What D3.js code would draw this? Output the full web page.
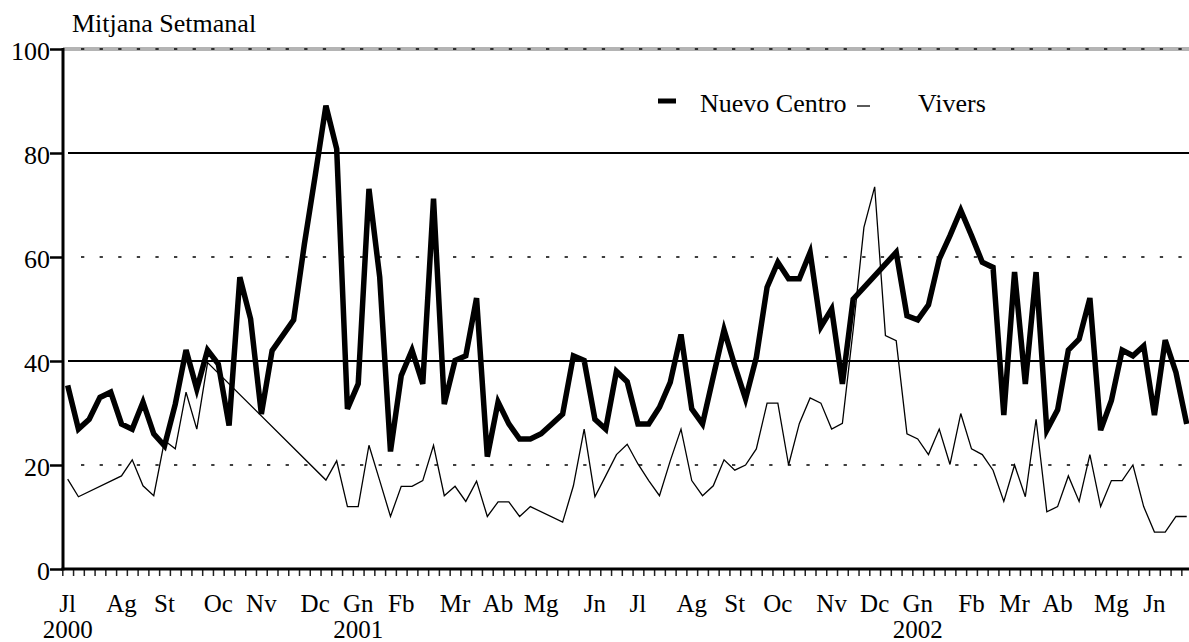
<!DOCTYPE html>
<html>
<head>
<meta charset="utf-8">
<script src="https://cdn.jsdelivr.net/npm/d3@7"></script>
<style>
  body { margin: 0; background: #fff; }
  svg { display: block; }
</style>
</head>
<body>
<svg id="chart" width="1189" height="642"></svg>
<script>
// weekly averages, Jul 2000 - Jun 2002 (null = no value that week)
const nuevoCentro = [
  35.3, 26.9, 28.8, 33.0, 34.0, 27.9, 26.9, 32.1, 26.0, 23.7,
  31.7, 42.1, 34.6, 42.1, 39.4, 27.6, 56.1, 48.1, 29.8, 42.0,
  null, 47.9, 62.5, 75.6, 89.1, 80.8, 30.8, 35.6, 73.1, 56.1,
  22.6, 37.2, 42.1, 35.6, 71.2, 31.7, 40.1, 41.0, 52.1, 21.6,
  32.1, 27.9, 25.0, 25.0, 26.0, 27.9, 29.8, 41.0, 40.1, 28.8,
  26.9, 38.0, 36.0, 27.9, 27.9, 31.1, 35.9, 45.1, 30.8, 27.9,
  37.0, 46.0, 39.1, 32.7, 40.7, 54.2, 59.0, 55.8, 55.8, 60.9,
  46.6, 50.0, 35.6, 51.9, null, null, null, 60.9, 48.7, 47.9,
  50.8, 59.6, 64.1, 69.0, 64.1, 59.0, 58.0, 29.6, 57.1, 35.6,
  57.1, 26.7, 30.6, 42.1, 44.2, 52.1, 26.7, 32.4, 42.1, 41.0,
  42.9, 29.6, 44.0, 37.8, 27.9
];
const vivers = [
  17.3, 13.9, null, null, null, 17.9, 21.0, 16.0, 14.1, 24.7,
  23.1, 34.0, 26.9, 39.7, null, null, null, null, null, null,
  null, null, null, null, 17.1, 20.8, 12.0, 12.0, 23.8, 17.0,
  10.1, 15.9, 15.9, 17.0, 23.8, 14.1, 15.9, 13.0, 16.9, 10.1,
  12.9, 12.9, 10.1, 12.0, null, null, 9.0, 16.0, 26.9, 13.9,
  17.9, 22.0, 24.0, 20.2, 17.0, 14.1, 20.8, 26.9, 17.0, 14.1,
  16.0, 21.0, 19.0, 20.0, 23.1, 31.9, 31.9, 20.0, 28.0, 32.9,
  31.9, 26.9, 28.0, 46.0, 65.7, 73.5, 44.9, 43.9, 26.0, 25.0,
  22.0, 26.9, 20.1, 29.9, 23.1, 22.0, 19.0, 13.0, 20.0, 13.9,
  28.8, 11.0, 12.0, 17.9, 13.0, 22.0, 12.0, 17.0, 17.0, 20.0,
  12.0, 7.1, 7.1, 10.1, 10.1
];

// month labels and the week each one sits under
const monthLabels = ["Jl","Ag","St","Oc","Nv","Dc","Gn","Fb","Mr","Ab","Mg","Jn",
                     "Jl","Ag","St","Oc","Nv","Dc","Gn","Fb","Mr","Ab","Mg","Jn"];
const monthWeeks = [0,5,9,14,18,23,27,31,36,40,44,49,
                    53,58,62,66,71,75,79,84,88,92,97,101];
const yearLabels = ["2000","2001","2002"];
const yearWeeks = [0,27,79];
const yTicks = [0,20,40,60,80,100];

const nWeeks = nuevoCentro.length;
const W = 1189, H = 642;
const svg = d3.select("#chart");

// scales
const x = d3.scaleLinear().domain([0, nWeeks]).range([62.3, 62.3 + nWeeks * 10.76]);
const y = d3.scaleLinear().domain([0, 100]).range([569, 49]);

// horizontal reference lines
const grid = svg.append("g");
yTicks.filter(v => v > 0).forEach(v => {
  if (v === 100) {
    grid.append("line").attr("x1", 63).attr("x2", W).attr("y1", y(v)).attr("y2", y(v))
      .attr("stroke", "#b4b4b4").attr("stroke-width", 4);
  }
  if (v === 40 || v === 80) {
    grid.append("line").attr("x1", 68).attr("x2", W).attr("y1", y(v)).attr("y2", y(v))
      .attr("stroke", "#000").attr("stroke-width", 2.2);
  } else {
    grid.append("line").attr("x1", 81).attr("x2", W).attr("y1", y(v)).attr("y2", y(v))
      .attr("stroke", "#000").attr("stroke-width", 1.3)
      .attr("stroke-dasharray", "3.3,15.3");
  }
});

// y axis
const yAxis = svg.append("g")
  .attr("transform", "translate(63,0)")
  .call(d3.axisLeft(y).tickValues(yTicks).tickSize(13).tickPadding(0));
yAxis.attr("font-family", null).attr("font-size", null);
yAxis.select(".domain").remove();
yAxis.selectAll(".tick line").attr("stroke", "#000").attr("stroke-width", 2.5);
yAxis.selectAll(".tick text")
  .attr("x", -13).attr("dy", "0.4em")
  .style("font", "26px 'Liberation Serif'");
svg.append("line").attr("x1", 63).attr("x2", 63).attr("y1", y(100) - 1).attr("y2", y(0) + 1.5)
  .attr("stroke", "#000").attr("stroke-width", 3);

// x axis with weekly ticks
const xAxis = svg.append("g")
  .attr("transform", "translate(0,569)")
  .call(d3.axisBottom(x).tickValues(d3.range(nWeeks)).tickSize(7).tickFormat(""));
xAxis.select(".domain").remove();
xAxis.selectAll(".tick line").attr("stroke", "#222").attr("stroke-width", 1.5);
svg.append("line").attr("x1", 61.5).attr("x2", W).attr("y1", 569).attr("y2", 569)
  .attr("stroke", "#000").attr("stroke-width", 3);

svg.append("g").selectAll("text")
  .data(monthLabels).enter()
  .append("text")
  .attr("x", (d, i) => x(monthWeeks[i] + 0.5))
  .attr("y", 612)
  .attr("text-anchor", "middle")
  .style("font", "25px 'Liberation Serif'")
  .text(d => d);

svg.append("g").selectAll("text")
  .data(yearLabels).enter()
  .append("text")
  .attr("x", (d, i) => x(yearWeeks[i] + 0.5))
  .attr("y", 638)
  .attr("text-anchor", "middle")
  .style("font", "25px 'Liberation Serif'")
  .text(d => d);

// series lines (gaps bridged with a straight segment)
const line = d3.line()
  .x(d => x(d.i + 0.5))
  .y(d => y(d.v));

function points(arr) {
  return arr.map((v, i) => ({ i: i, v: v })).filter(d => d.v !== null);
}

svg.append("path")
  .datum(points(vivers))
  .attr("d", line)
  .attr("fill", "none")
  .attr("stroke", "#000")
  .attr("stroke-width", 1.3);

svg.append("path")
  .datum(points(nuevoCentro))
  .attr("d", line)
  .attr("fill", "none")
  .attr("stroke", "#000")
  .attr("stroke-width", 5.5);

// title
svg.append("text")
  .attr("x", 72).attr("y", 32)
  .style("font", "26px 'Liberation Serif'")
  .text("Mitjana Setmanal");

// legend
const legend = svg.append("g");
legend.append("line").attr("x1", 658).attr("x2", 676).attr("y1", 101).attr("y2", 101)
  .attr("stroke", "#000").attr("stroke-width", 5);
legend.append("text").attr("x", 700).attr("y", 112)
  .style("font", "26px 'Liberation Serif'").text("Nuevo Centro");
legend.append("line").attr("x1", 857).attr("x2", 870).attr("y1", 106).attr("y2", 106)
  .attr("stroke", "#000").attr("stroke-width", 1.3);
legend.append("text").attr("x", 918).attr("y", 112)
  .style("font", "26px 'Liberation Serif'").text("Vivers");
</script>
</body>
</html>
